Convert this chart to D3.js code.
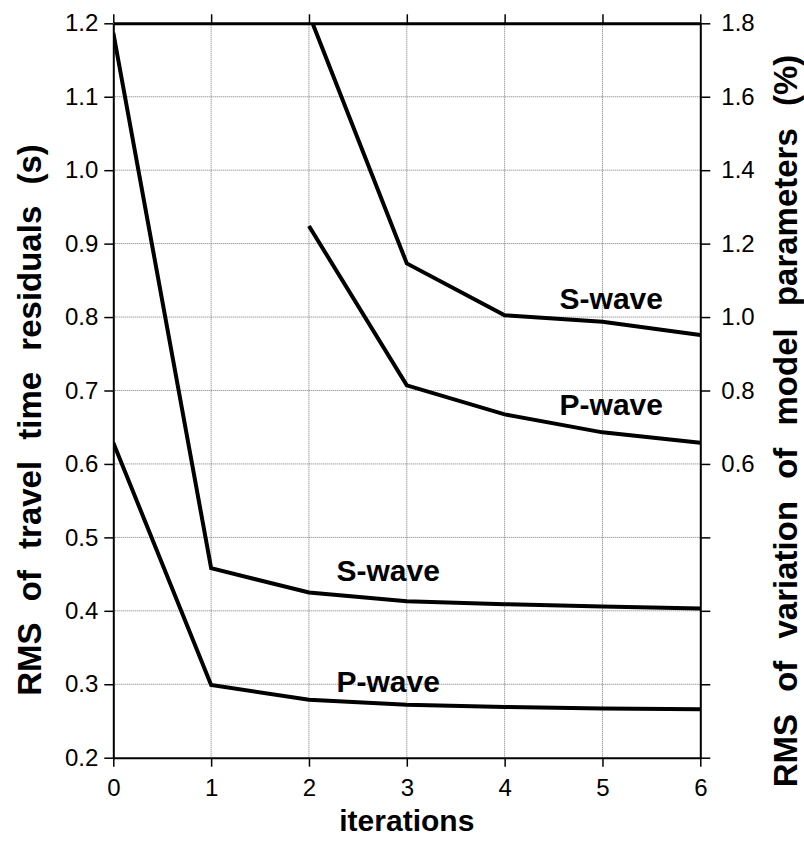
<!DOCTYPE html>
<html>
<head>
<meta charset="utf-8">
<script src="https://cdn.jsdelivr.net/npm/d3@7"></script>
<style>
  body { margin: 0; background: #fff; }
  text { font-family: "Liberation Sans", Arial, Helvetica, sans-serif; }
</style>
</head>
<body>
<div id="chart"></div>
<script>
// iterations on the x axis
var iterations = [0, 1, 2, 3, 4, 5, 6];

// RMS of travel time residuals (s), left axis
var sTravel = [1.187, 0.458, 0.425, 0.413, 0.409, 0.406, 0.403];
var pTravel = [0.629, 0.299, 0.279, 0.272, 0.269, 0.267, 0.266];

// RMS of variation of model parameters (%), right axis, from iteration 2
var modelIter = [2, 3, 4, 5, 6];
var sModel = [1.825, 1.146, 1.005, 0.987, 0.951];
var pModel = [1.248, 0.814, 0.735, 0.686, 0.658];

var leftTicks = [0.2, 0.3, 0.4, 0.5, 0.6, 0.7, 0.8, 0.9, 1.0, 1.1, 1.2];
var rightTicks = [-0.2, 0, 0.2, 0.4, 0.6, 0.8, 1.0, 1.2, 1.4, 1.6, 1.8];

var width = 804, height = 841;
var margin = { top: 23.3, right: 103.7, bottom: 83.3, left: 113.3 };
var w = width - margin.left - margin.right;
var h = height - margin.top - margin.bottom;

var svg = d3.select("#chart").append("svg")
  .attr("width", width)
  .attr("height", height);

var g = svg.append("g")
  .attr("transform", "translate(" + margin.left + "," + margin.top + ")");

var x = d3.scaleLinear().domain([0, 6]).range([0, w]);
var yL = d3.scaleLinear().domain([0.2, 1.2]).range([h, 0]);
var yR = d3.scaleLinear().domain([-0.2, 1.8]).range([h, 0]);

// dotted grid
g.append("g")
  .selectAll("line")
  .data(leftTicks.slice(1, -1))
  .enter().append("line")
  .attr("x1", 0).attr("x2", w)
  .attr("y1", function (d) { return yL(d); })
  .attr("y2", function (d) { return yL(d); })
  .attr("stroke", "#777")
  .attr("stroke-width", 1)
  .attr("stroke-dasharray", "1,1");

g.append("g")
  .selectAll("line")
  .data(iterations.slice(1, -1))
  .enter().append("line")
  .attr("y1", 0).attr("y2", h)
  .attr("x1", function (d) { return x(d); })
  .attr("x2", function (d) { return x(d); })
  .attr("stroke", "#777")
  .attr("stroke-width", 1)
  .attr("stroke-dasharray", "1,1");

// axes
function styleAxis(sel) {
  sel.select(".domain").attr("stroke", "#000").attr("stroke-width", 2);
  sel.selectAll(".tick line").attr("stroke", "#000").attr("stroke-width", 1.5);
  sel.selectAll(".tick text")
    .attr("fill", "#000")
    .style("font-size", "24px");
}

var xAxis = g.append("g")
  .attr("transform", "translate(0," + h + ")")
  .call(d3.axisBottom(x).tickValues(iterations).tickFormat(d3.format("d"))
    .tickSizeInner(9).tickSizeOuter(0).tickPadding(12));
styleAxis(xAxis);

var xTop = g.append("g")
  .call(d3.axisTop(x).tickValues(iterations).tickFormat("")
    .tickSizeInner(9).tickSizeOuter(0));
styleAxis(xTop);
xTop.select(".domain").attr("stroke-width", 3);

var yAxisL = g.append("g")
  .call(d3.axisLeft(yL).tickValues(leftTicks).tickFormat(d3.format(".1f"))
    .tickSizeInner(9).tickSizeOuter(0).tickPadding(6));
styleAxis(yAxisL);

var yAxisR = g.append("g")
  .attr("transform", "translate(" + w + ",0)")
  .call(d3.axisRight(yR).tickValues(rightTicks)
    .tickFormat(function (d) { return d >= 0.59 ? d3.format(".1f")(d) : ""; })
    .tickSizeInner(10).tickSizeOuter(0).tickPadding(11));
styleAxis(yAxisR);

// lines
svg.append("defs").append("clipPath").attr("id", "plot")
  .append("rect").attr("width", w).attr("height", h);

var lines = g.append("g").attr("clip-path", "url(#plot)");

var lineL = d3.line()
  .x(function (d, i) { return x(iterations[i]); })
  .y(function (d) { return yL(d); });
var lineR = d3.line()
  .x(function (d, i) { return x(modelIter[i]); })
  .y(function (d) { return yR(d); });

[sTravel, pTravel].forEach(function (s) {
  lines.append("path").datum(s)
    .attr("d", lineL)
    .attr("fill", "none")
    .attr("stroke", "#000")
    .attr("stroke-width", 4);
});
[sModel, pModel].forEach(function (s) {
  lines.append("path").datum(s)
    .attr("d", lineR)
    .attr("fill", "none")
    .attr("stroke", "#000")
    .attr("stroke-width", 4);
});

// curve labels
function label(txt, px, py) {
  g.append("text")
    .attr("x", px).attr("y", py)
    .attr("text-anchor", "middle")
    .style("font-size", "30px")
    .style("font-weight", "bold")
    .attr("fill", "#000")
    .text(txt);
}
label("S-wave", x(5.09), yR(1.022));
label("P-wave", x(5.09), yR(0.734));
label("S-wave", x(2.81), yL(0.440));
label("P-wave", x(2.81), yL(0.289));

// axis titles
svg.append("text")
  .attr("x", margin.left + w / 2).attr("y", 831)
  .attr("text-anchor", "middle")
  .style("font-size", "30px")
  .style("font-weight", "bold")
  .text("iterations");

svg.append("text")
  .attr("transform", "translate(41,420) rotate(-90)")
  .attr("text-anchor", "middle")
  .style("font-size", "33px")
  .style("font-weight", "bold")
  .style("word-spacing", "12px")
  .text("RMS of travel time residuals (s)");

svg.append("text")
  .attr("transform", "translate(797,421) rotate(-90)")
  .attr("text-anchor", "middle")
  .style("font-size", "33px")
  .style("font-weight", "bold")
  .style("word-spacing", "13px")
  .text("RMS of variation of model parameters (%)");
</script>
</body>
</html>
